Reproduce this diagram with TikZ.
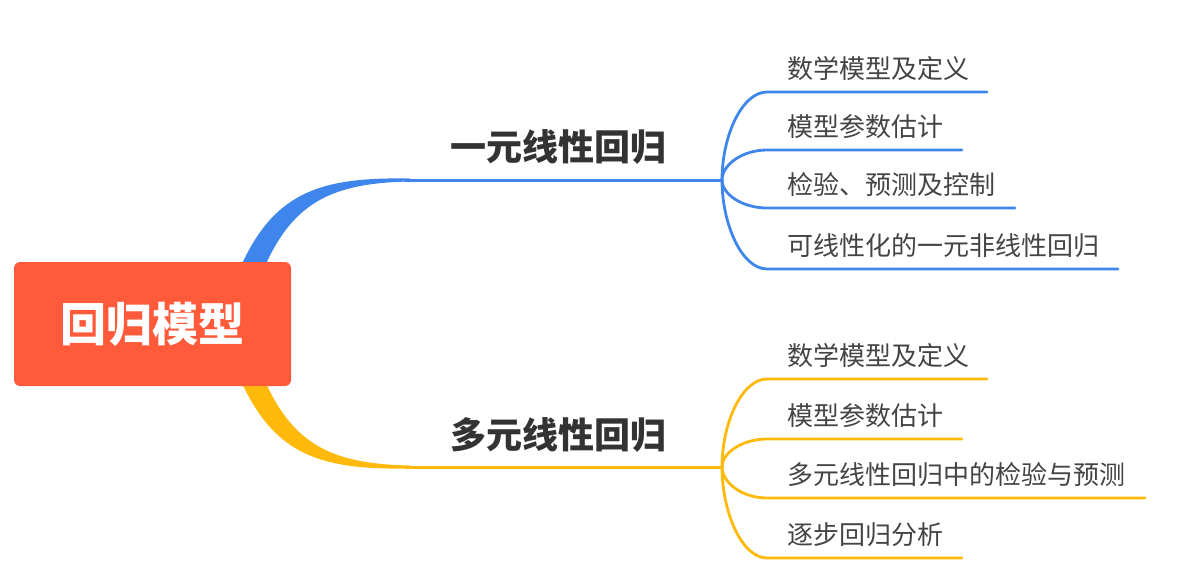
\documentclass[tikz,border=0pt]{standalone}
\usepackage{fontspec}
\newfontfamily\cjk{Noto Sans CJK SC}
\definecolor{rootred}{HTML}{FF5A3A}
\definecolor{linblue}{HTML}{3F86EC}
\definecolor{multiyellow}{HTML}{FFB90A}
\definecolor{labelgray}{HTML}{333333}
\definecolor{subgray}{HTML}{444444}
\tikzset{
  rootbox/.style={rectangle, rounded corners=6pt, fill=rootred, text=white,
    minimum width=277pt, minimum height=124pt, inner sep=0pt,
    font=\cjk\bfseries\fontsize{46}{46}\selectfont},
  branchlabel/.style={inner sep=0pt, text=labelgray,
    font=\cjk\bfseries\fontsize{36}{36}\selectfont},
  sublabel/.style={anchor=west, inner sep=0pt, text=subgray,
    font=\cjk\fontsize{26}{26}\selectfont},
}
\begin{document}
\begin{tikzpicture}[x=1pt, y=-1pt, line cap=round]
  \useasboundingbox (0,0) rectangle (1178,587);

  % thick tapered stems, under the root box
  \fill[linblue] (241,266) .. controls (275,191) and (322,177) .. (410,178.5)
    -- (410,181.5) .. controls (334,183) and (294,201) .. (265,266) -- cycle;
  \fill[multiyellow] (241,381) .. controls (275,456) and (322,470) .. (410,468.5)
    -- (410,465.5) .. controls (334,464) and (294,446) .. (265,381) -- cycle;

  \node[rootbox] (root) at (152.5,324) {回归模型};

  % branch lines and junctions
  \coordinate (linstem) at (405,180);
  \coordinate (linjoin) at (722,180);
  \coordinate (multistem) at (405,467);
  \coordinate (multijoin) at (722,467);
  \draw[linblue, line width=3pt] (linstem) -- (linjoin);
  \draw[multiyellow, line width=3pt] (multistem) -- (multijoin);

  \node[branchlabel] (lin) at (558,147) {一元线性回归};
  \node[branchlabel] (multi) at (558,435) {多元线性回归};

  % sub topics: line y / line end / text
  \foreach \y/\e/\t [count=\i] in {92/987/数学模型及定义, 150/962/模型参数估计,
      208/1015/检验、预测及控制, 269/1118/可线性化的一元非线性回归} {
    \coordinate (lins\i) at (767,\y);
    \coordinate (line\i) at (\e,\y);
    \node[sublabel] (linl\i) at (787,\y-23) {\t};
    \draw[linblue, line width=2.8pt] (linjoin) .. controls (722,{(\y+180)/2}) and (742,\y) .. (lins\i) -- (line\i);
  }
  \foreach \y/\e/\t [count=\i] in {379/987/数学模型及定义, 439/962/模型参数估计,
      498/1145/多元线性回归中的检验与预测, 558/962/逐步回归分析} {
    \coordinate (multis\i) at (767,\y);
    \coordinate (multie\i) at (\e,\y);
    \node[sublabel] (multil\i) at (787,\y-23) {\t};
    \draw[multiyellow, line width=2.8pt] (multijoin) .. controls (722,{(\y+467)/2}) and (742,\y) .. (multis\i) -- (multie\i);
  }
\end{tikzpicture}
\end{document}
